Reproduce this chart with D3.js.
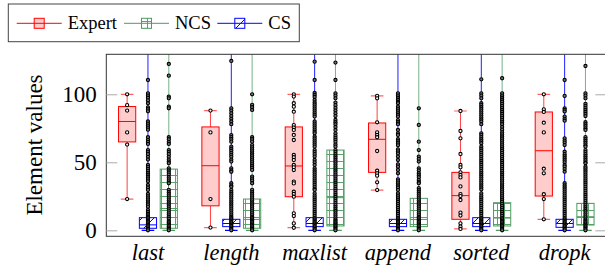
<!DOCTYPE html>
<html>
<head>
<meta charset="utf-8">
<script src="https://cdn.jsdelivr.net/npm/d3@7"></script>
<style>
body { margin: 0; background: #fff; }
svg { display: block; }
svg text { font-family: "Liberation Serif", "Times New Roman", "DejaVu Serif", serif; }
</style>
</head>
<body>
<script>
const categories = ["last", "length", "maxlist", "append", "sorted", "dropk"];
const yTicks = [0, 50, 100];

// per category: [lower whisker, q1, median, q3, upper whisker]
const expertBoxes = [
    [23, 65, 80, 91, 100],
    [2, 18, 47.5, 76, 88],
    [2, 24.7, 47.3, 76, 100],
    [29.6, 42.6, 66.9, 78.9, 98.8],
    [1, 8.1, 25.5, 42.6, 87.7],
    [8.1, 25.2, 58.5, 87, 100]
];
const csBoxes = [
    [0, 1.5, 4, 9.3, 140],
    [0, 2.7, 5, 8.1, 140],
    [0, 2.7, 5, 9.3, 140],
    [0, 2.7, 5, 8.1, 140],
    [0, 2.7, 5, 9.3, 140],
    [0, 2.2, 5, 8.1, 140]
];
const ncsBoxes = [
    [0, 1.5, 16, 45, 140],
    [0, 1.5, 8, 23, 140],
    [0, 3.2, 24, 59, 140],
    [0, 2.7, 8, 23.5, 140],
    [0, 3.2, 9, 20.3, 140],
    [0, 3.9, 10, 19.8, 140]
];

// data points per category
const expertPoints = [
    [100, 92, 88, 72, 63, 23],
    [88, 72, 23, 2],
    [100, 98.3, 93.4, 90.9, 87.2, 77.4, 75.5, 73.8, 70.1, 66.4, 55.4, 53.7, 51.7, 48, 46.3, 44.3, 35.8, 34.5, 28.4, 26.7, 24.7, 12.5, 10.5, 5.1, 1.9],
    [98.8, 97, 79.4, 72, 70.1, 68.4, 58.3, 43.8, 41.9, 40.2, 35.3, 29.6],
    [87.7, 73, 67.6, 56.1, 48, 46.3, 42.6, 40.7, 38.9, 32.3, 26.6, 25.2, 22.3, 13, 10.8, 5.1, 2.7, 1],
    [100, 88.9, 87, 79.1, 72, 45.3, 41.9, 26.5, 23, 8.1]
];
const csPoints = [
    [110.5, 100.7, 99, 97.5, 95.5, 93.4, 90.4, 89, 87.5, 80, 78.5, 77, 75.5, 74, 68.4, 66.5, 65, 63.5, 59, 57.5, 56, 54, 52, 48, 46.5, 45, 43.5, 42, 40.5, 39, 37.5, 36, 33.3, 31.5, 29.7, 26.7, 25, 23.5, 22, 20.5, 19, 17.4, 15, 13.5, 12, 11, 10, 9, 8, 7, 6, 5, 4, 3, 2, 1, 0],
    [124.5, 89.7, 88, 86, 84, 82, 80, 78, 70, 68.5, 67, 65.2, 61.5, 60, 58.5, 57, 55.5, 54, 52, 50.5, 45.6, 44, 43, 34.6, 33, 32, 29.7, 28, 26.5, 25, 23.5, 22, 20.5, 19, 17.5, 16, 14.5, 13, 11.5, 10, 9, 8, 7, 6, 5, 4, 3, 2, 1, 0],
    [124, 110.5, 101, 99.5, 98, 95.8, 94, 92.5, 91, 89.5, 88, 86.5, 85, 83.6, 80, 78.5, 77, 75.5, 74, 72.5, 71.3, 68.9, 67.5, 66, 64.5, 63, 61.5, 59, 57.5, 56, 54.2, 51.7, 50, 48, 45.6, 44, 42.5, 41, 39.5, 38, 36.5, 35, 33.5, 32, 30.5, 29.7, 27.2, 25.5, 24, 22.5, 21, 19.5, 18, 16.5, 15, 13.5, 12, 10.5, 9, 8, 7, 6, 5, 4, 3, 2, 1, 0],
    [100.7, 99, 97.5, 96, 94.5, 93.4, 90.9, 89.5, 88, 86.5, 85, 83.6, 81, 79.5, 78, 73.8, 71.3, 70, 67, 65.5, 64, 62.5, 59.5, 58, 56.5, 54.2, 51.7, 48.5, 46.8, 44.4, 41.9, 37.5, 36, 34.5, 33, 31.5, 29.7, 27.2, 25.5, 24, 22.5, 21, 19.5, 18, 16.5, 15, 13.5, 12, 10.5, 9, 8, 7, 6, 5, 4, 3, 2, 1, 0],
    [111, 100.7, 99, 97, 93.4, 92, 90.5, 89, 87.5, 86, 84.5, 83, 81.5, 80, 78, 71.3, 70, 68.5, 67, 65.5, 64, 61.5, 60, 58.5, 57, 55.5, 54, 52.5, 51, 49.5, 48, 46.5, 45, 43.5, 42, 40.5, 39, 37.5, 36, 34.5, 33, 31.5, 30, 27.2, 25.5, 24, 22.5, 21, 19.5, 18, 16.5, 15, 13.5, 12, 10.5, 9, 8, 7, 6, 5, 4, 3, 2, 1, 0],
    [110.5, 98.8, 89.7, 88.5, 87.3, 83.6, 82, 80.6, 67.6, 66, 64.5, 62.7, 57.8, 56, 54.5, 53, 51.5, 50, 48, 46.8, 45, 43.1, 34.6, 33, 31.5, 30, 28.5, 27, 25.5, 24, 22.5, 21, 19.5, 18, 16.5, 15, 13.5, 12, 10.5, 9, 8, 7, 6, 5, 4, 3, 2, 1, 0]
];
const ncsPoints = [
    [122.3, 113.7, 98.3, 97, 90.9, 89.7, 68.4, 67, 65, 63.5, 59, 57.5, 56, 54, 52, 50.5, 49.3, 45.6, 44, 42.5, 41, 39, 37.5, 36, 34.6, 29.7, 28, 26.5, 25, 23.5, 22, 20.5, 19, 17.5, 16, 14.5, 13, 11.5, 10, 8.5, 7, 6, 5, 4, 3, 2, 1, 0],
    [100, 92.2, 90.5, 88.5, 68.4, 67, 65.2, 62.7, 61, 59.5, 58, 56.5, 55, 53.5, 52, 50.5, 49, 47.5, 46, 44.4, 39.5, 38, 36.5, 34.6, 29.7, 28, 26.5, 25, 23.5, 22, 20.5, 19, 17.5, 16, 14.5, 13, 11.5, 10, 9, 8, 7, 6, 5, 4, 3, 2, 1, 0],
    [123.3, 110.5, 100.7, 99, 97, 93.9, 92, 90, 88, 86, 84, 81.1, 79.5, 78, 76, 73.8, 71.3, 69.5, 68, 66.5, 65, 63, 61.5, 59, 57.5, 56, 54.5, 53, 51.5, 50, 48.5, 47, 45.5, 44, 42.5, 41, 39.5, 38, 36.5, 35, 33.5, 32, 30.5, 29, 27.5, 26, 24.5, 23, 21.5, 20, 18.5, 17, 15.5, 14, 12.5, 11, 9.5, 8, 7, 6, 5, 4, 3, 2, 1, 0],
    [89.7, 77.5, 65.2, 59, 54.2, 52.5, 50.5, 45.6, 44, 42, 40.5, 39, 37, 35.5, 34.6, 31, 29.5, 28, 26.5, 25, 23.5, 22, 20.5, 19, 17.5, 16, 14.5, 13, 11.5, 10, 9, 8, 7, 6, 5, 4, 3, 2, 1, 0],
    [111.8, 100.7, 99, 97.5, 96, 94.5, 93, 91.5, 90, 88.5, 87, 85.5, 84, 82.5, 81, 79.5, 78, 76, 74, 72, 70.5, 69, 67.5, 66, 64.5, 63, 61.5, 60, 58.5, 57, 55.5, 54, 52.5, 51, 49.5, 48, 46.5, 45, 43.5, 42, 40.5, 39, 37.5, 36, 34.5, 33, 31.5, 30, 28.5, 27, 25.5, 24, 22.5, 21, 19.5, 18, 16.5, 15, 13.5, 12, 10.5, 9, 8, 7, 6, 5, 4, 3, 2, 1, 0],
    [120.8, 100.7, 99, 97, 93, 91.5, 90, 88.5, 87, 85.5, 84, 79.5, 78, 76.5, 75, 73.8, 68.5, 67, 65.5, 64, 62.5, 61.5, 59, 57.5, 56, 54.5, 53, 51.5, 50, 49.3, 46.8, 45.5, 44, 42.5, 41, 39.5, 38, 36.5, 35, 33.5, 32, 30.5, 29, 27.5, 26, 24.5, 23, 21.5, 20, 18.5, 17, 15.5, 14, 12.5, 11, 9.5, 8, 7, 6, 5, 4, 3, 2, 1, 0]
];

const width = 605;
const height = 269;
const plotLeft = 106.3, plotRight = 606.3, plotTop = 54.3, plotBottom = 236.3;

const svg = d3.select("body")
    .append("svg")
    .attr("width", width)
    .attr("height", height);

const x = d3.scaleLinear().domain([0, 24]).range([plotLeft, plotRight]);
const y = d3.scaleLinear().domain([-4.4, 129.4]).range([plotBottom, plotTop]);

// clip + fill patterns
const defs = svg.append("defs");
defs.append("clipPath").attr("id", "plot-clip")
    .append("rect")
    .attr("x", plotLeft).attr("y", plotTop)
    .attr("width", plotRight - plotLeft).attr("height", plotBottom - plotTop);

const grid = defs.append("pattern")
    .attr("id", "grid")
    .attr("patternUnits", "userSpaceOnUse")
    .attr("width", 7).attr("height", 7);
grid.append("rect").attr("width", 7).attr("height", 7).attr("fill", "#fff");
grid.append("path")
    .attr("d", "M0,0.5H7M0.5,0V7")
    .attr("stroke", "#5aa46b")
    .attr("stroke-width", 1);

const hatch = defs.append("pattern")
    .attr("id", "hatch")
    .attr("patternUnits", "userSpaceOnUse")
    .attr("width", 12).attr("height", 12);
hatch.append("rect").attr("width", 12).attr("height", 12).attr("fill", "#fff");
hatch.append("path")
    .attr("d", "M0,12L12,0M-3,3L3,-3M9,15L15,9")
    .attr("stroke", "#0000ff")
    .attr("stroke-width", 1);

const series = [
    { name: "Expert", offset: 1, boxes: expertBoxes, points: expertPoints, stroke: "#ff0000", whisker: "#ff4040", cap: "#ff6060", fill: "#ffcccc" },
    { name: "CS", offset: 2, boxes: csBoxes, points: csPoints, stroke: "#0000ff", whisker: "#2020ff", cap: "#0000ff", fill: "url(#hatch)" },
    { name: "NCS", offset: 3, boxes: ncsBoxes, points: ncsPoints, stroke: "#4f9c61", whisker: "#74b383", cap: "#4f9c61", fill: "url(#grid)" }
];

const boxHalf = 8.6;
const capHalf = 6.3;

const plot = svg.append("g").attr("clip-path", "url(#plot-clip)");

series.forEach(s => {
    categories.forEach((c, i) => {
        const cx = x(4 * i + s.offset);
        const [lo, q1, med, q3, hi] = s.boxes[i];
        const g = plot.append("g");

        g.append("line")
            .attr("x1", cx).attr("x2", cx)
            .attr("y1", y(hi)).attr("y2", y(q3))
            .attr("stroke", s.whisker).attr("stroke-width", 1);
        g.append("line")
            .attr("x1", cx).attr("x2", cx)
            .attr("y1", y(q1)).attr("y2", y(lo))
            .attr("stroke", s.whisker).attr("stroke-width", 1);
        [lo, hi].forEach(v => {
            g.append("line")
                .attr("x1", cx - capHalf).attr("x2", cx + capHalf)
                .attr("y1", y(v)).attr("y2", y(v))
                .attr("stroke", s.cap).attr("stroke-width", 1.2);
        });

        g.append("rect")
            .attr("x", cx - boxHalf).attr("y", y(q3))
            .attr("width", boxHalf * 2).attr("height", y(q1) - y(q3))
            .attr("fill", s.fill)
            .attr("stroke", s.stroke).attr("stroke-width", 1);
        g.append("line")
            .attr("x1", cx - boxHalf).attr("x2", cx + boxHalf)
            .attr("y1", y(med)).attr("y2", y(med))
            .attr("stroke", s.stroke).attr("stroke-width", 1);

        // single points: light centre, dense runs read as solid black
        g.selectAll("circle")
            .data(s.points[i])
            .join("circle")
            .attr("cx", cx)
            .attr("cy", d => y(d))
            .attr("r", 1.6)
            .attr("fill", s.name === "Expert" ? "#fff" : "#777")
            .attr("stroke", "#000")
            .attr("stroke-width", 1.1);
    });
});

// frame
svg.append("rect")
    .attr("x", plotLeft).attr("y", plotTop)
    .attr("width", plotRight - plotLeft).attr("height", plotBottom - plotTop)
    .attr("fill", "none")
    .attr("stroke", "#333")
    .attr("stroke-width", 1);

// y axis
svg.append("g")
    .attr("transform", "translate(" + plotLeft + ",0)")
    .call(d3.axisLeft(y).tickValues(yTicks).tickSizeInner(-11).tickSizeOuter(0).tickPadding(9.6))
    .call(g => g.select(".domain").remove())
    .call(g => g.selectAll(".tick line").attr("stroke", "#aaa"))
    .call(g => g.selectAll("text")
        .attr("font-size", "23px")
        .attr("fill", "#000"));

svg.append("g")
    .attr("transform", "translate(" + plotRight + ",0)")
    .call(d3.axisRight(y).tickValues(yTicks).tickSizeInner(-11).tickSizeOuter(0).tickFormat(""))
    .call(g => g.select(".domain").remove())
    .call(g => g.selectAll(".tick line").attr("stroke", "#aaa"));

svg.append("text")
    .attr("transform", "translate(41.7,145) rotate(-90)")
    .attr("text-anchor", "middle")
    .attr("font-size", "23px")
    .text("Element values");

// category labels
svg.selectAll(".cat")
    .data(categories)
    .join("text")
    .attr("class", "cat")
    .attr("x", (d, i) => x(4 * i + 2))
    .attr("y", 260)
    .attr("text-anchor", "middle")
    .attr("font-style", "italic")
    .attr("font-size", "22.5px")
    .text(d => d);

// legend
svg.append("rect")
    .attr("x", 8.3).attr("y", 4)
    .attr("width", 291).attr("height", 37.7)
    .attr("fill", "#fff")
    .attr("stroke", "#444")
    .attr("stroke-width", 1);

const legendX = [16.7, 124, 217.3];
const legendOrder = [series[0], series[2], series[1]];
legendOrder.forEach((s, i) => {
    const lx = legendX[i];
    const g = svg.append("g");
    g.append("line")
        .attr("x1", lx).attr("x2", lx + 45)
        .attr("y1", 23.3).attr("y2", 23.3)
        .attr("stroke", s.stroke).attr("stroke-width", 1);
    g.append("rect")
        .attr("x", lx + 17.5).attr("y", 18.3)
        .attr("width", 10).attr("height", 10)
        .attr("fill", s.fill)
        .attr("stroke", s.stroke).attr("stroke-width", 1);
    g.append("line")
        .attr("x1", lx + 17.5).attr("x2", lx + 27.5)
        .attr("y1", 23.3).attr("y2", 23.3)
        .attr("stroke", s.stroke).attr("stroke-width", 1);
    g.append("text")
        .attr("x", lx + 51)
        .attr("y", 28.8)
        .attr("font-size", "18.5px")
        .text(s.name);
});
</script>
</body>
</html>
